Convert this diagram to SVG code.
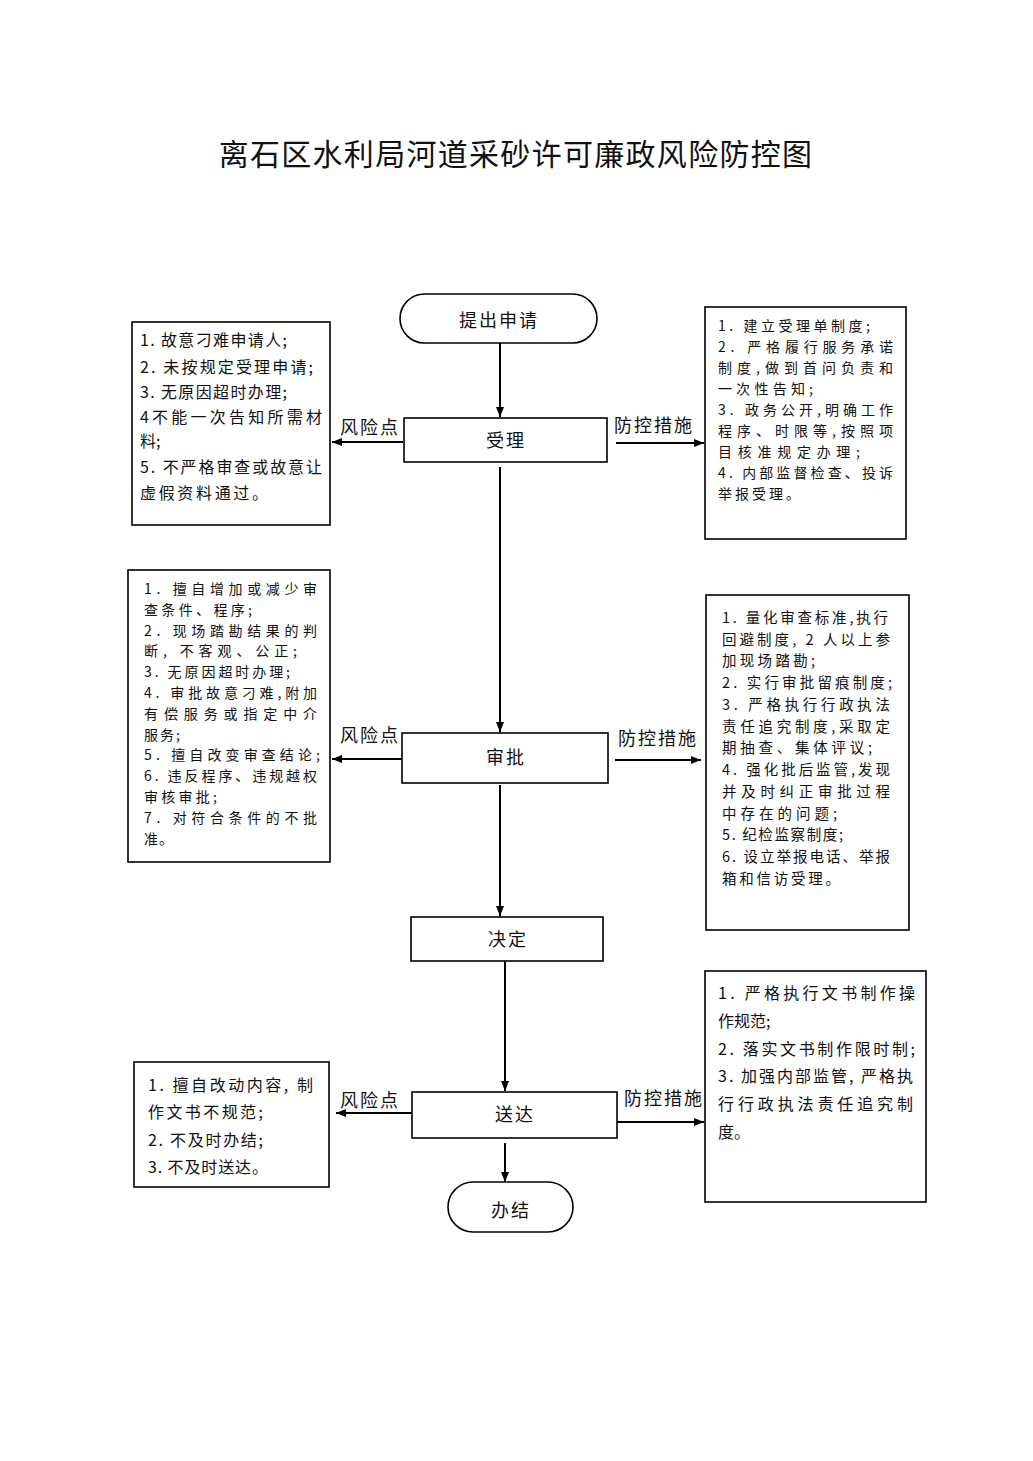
<svg xmlns="http://www.w3.org/2000/svg" width="1033" height="1461" viewBox="0 0 1033 1461">
<style>
.bg{fill:#fff}
.box{fill:#fff;stroke:#000;stroke-width:1.6}
.ln{stroke:#000;stroke-width:2;fill:none}
.t{font-family:"Noto Sans CJK SC","Liberation Sans",sans-serif;fill:#111}
.b16{font-size:16px}
.b14{font-size:14px}
.b145{font-size:14.5px}
.lbl{font-size:18px;letter-spacing:2px}
.node{font-size:18px;letter-spacing:2px;text-anchor:middle}
</style>
<defs>
<marker id="ah" viewBox="0 0 10 8" refX="10" refY="4" markerWidth="10" markerHeight="8" markerUnits="userSpaceOnUse" orient="auto">
<path d="M0,0 L10,4 L0,8 Z" fill="#000"/>
</marker>
</defs>
<rect class="bg" x="0" y="0" width="1033" height="1461"/>
<text class="t" x="516" y="165" font-size="30" letter-spacing="1.3" text-anchor="middle">离石区水利局河道采砂许可廉政风险防控图</text>

<g id="connectors">
<line class="ln" x1="500" y1="343" x2="500" y2="417" marker-end="url(#ah)"/>
<line class="ln" x1="500" y1="467" x2="500" y2="732" marker-end="url(#ah)"/>
<line class="ln" x1="500" y1="785" x2="500" y2="916" marker-end="url(#ah)"/>
<line class="ln" x1="505" y1="961" x2="505" y2="1091" marker-end="url(#ah)"/>
<line class="ln" x1="505" y1="1143" x2="505" y2="1182" marker-end="url(#ah)"/>
<line class="ln" x1="403" y1="442" x2="332" y2="442" marker-end="url(#ah)"/>
<line class="ln" x1="616" y1="443" x2="704" y2="443" marker-end="url(#ah)"/>
<line class="ln" x1="402" y1="759" x2="332" y2="759" marker-end="url(#ah)"/>
<line class="ln" x1="615" y1="760" x2="701" y2="760" marker-end="url(#ah)"/>
<line class="ln" x1="412" y1="1113" x2="336" y2="1113" marker-end="url(#ah)"/>
<line class="ln" x1="617" y1="1122" x2="704" y2="1122" marker-end="url(#ah)"/>
<text class="t lbl" x="340" y="434">风险点</text>
<text class="t lbl" x="614" y="432">防控措施</text>
<text class="t lbl" x="340" y="742">风险点</text>
<text class="t lbl" x="618" y="745">防控措施</text>
<text class="t lbl" x="340" y="1107">风险点</text>
<text class="t lbl" x="624" y="1105">防控措施</text>
</g>

<g id="start">
<rect class="box" x="400" y="294" width="197" height="49" rx="24.5"/>
<text class="t node" x="499" y="327">提出申请</text>
</g>
<g id="shouli">
<rect class="box" x="404" y="418" width="203" height="44"/>
<text class="t node" x="506" y="447">受理</text>
</g>
<g id="shenpi">
<rect class="box" x="402" y="733" width="206" height="50"/>
<text class="t node" x="506" y="764">审批</text>
</g>
<g id="jueding">
<rect class="box" x="411" y="917" width="192" height="44"/>
<text class="t node" x="508" y="946">决定</text>
</g>
<g id="songda">
<rect class="box" x="412" y="1092" width="205" height="46"/>
<text class="t node" x="515" y="1121">送达</text>
</g>
<g id="end">
<rect class="box" x="448" y="1182" width="125" height="50" rx="25"/>
<text class="t node" x="511" y="1217">办结</text>
</g>

<g id="risk1">
<rect class="box" x="132" y="322" width="198" height="203"/>
<g class="t b16">
<text x="140" y="346" textLength="147" lengthAdjust="spacing">1. 故意刁难申请人;</text>
<text x="140" y="373" textLength="173" lengthAdjust="spacing">2. 未按规定受理申请;</text>
<text x="140" y="398" textLength="147" lengthAdjust="spacing">3. 无原因超时办理;</text>
<text x="140" y="423" textLength="182" lengthAdjust="spacing">4不能一次告知所需材</text>
<text x="140" y="447">料;</text>
<text x="140" y="473" textLength="182" lengthAdjust="spacing">5. 不严格审查或故意让</text>
<text x="140" y="499" textLength="128" lengthAdjust="spacing">虚假资料通过。</text>
</g>
</g>

<g id="measure1">
<rect class="box" x="705" y="307" width="201" height="232"/>
<g class="t b14">
<text x="718" y="331" textLength="152" lengthAdjust="spacing">1. 建立受理单制度;</text>
<text x="718" y="352" textLength="175" lengthAdjust="spacing">2. 严格履行服务承诺</text>
<text x="718" y="373" textLength="175" lengthAdjust="spacing">制度,做到首问负责和</text>
<text x="718" y="394" textLength="95" lengthAdjust="spacing">一次性告知;</text>
<text x="718" y="415" textLength="175" lengthAdjust="spacing">3. 政务公开,明确工作</text>
<text x="718" y="436" textLength="175" lengthAdjust="spacing">程序、时限等,按照项</text>
<text x="718" y="457" textLength="142" lengthAdjust="spacing">目核准规定办理;</text>
<text x="718" y="478" textLength="175" lengthAdjust="spacing">4. 内部监督检查、投诉</text>
<text x="718" y="499" textLength="82" lengthAdjust="spacing">举报受理。</text>
</g>
</g>

<g id="risk2">
<rect class="box" x="128" y="570" width="202" height="292"/>
<g class="t b14">
<text x="144" y="594" textLength="173" lengthAdjust="spacing">1. 擅自增加或减少审</text>
<text x="144" y="615" textLength="108" lengthAdjust="spacing">查条件、程序;</text>
<text x="144" y="636" textLength="173" lengthAdjust="spacing">2. 现场踏勘结果的判</text>
<text x="144" y="656" textLength="153" lengthAdjust="spacing">断, 不客观、公正;</text>
<text x="144" y="677" textLength="146" lengthAdjust="spacing">3. 无原因超时办理;</text>
<text x="144" y="698" textLength="173" lengthAdjust="spacing">4. 审批故意刁难,附加</text>
<text x="144" y="719" textLength="173" lengthAdjust="spacing">有偿服务或指定中介</text>
<text x="144" y="740" letter-spacing="2">服务;</text>
<text x="144" y="760" textLength="176" lengthAdjust="spacing">5. 擅自改变审查结论;</text>
<text x="144" y="781" textLength="173" lengthAdjust="spacing">6. 违反程序、违规越权</text>
<text x="144" y="802" textLength="73" lengthAdjust="spacing">审核审批;</text>
<text x="144" y="823" textLength="173" lengthAdjust="spacing">7. 对符合条件的不批</text>
<text x="144" y="844" letter-spacing="1">准。</text>
</g>
</g>

<g id="measure2">
<rect class="box" x="706" y="595" width="203" height="335"/>
<g class="t b145">
<text x="722" y="623" textLength="166" lengthAdjust="spacing">1. 量化审查标准,执行</text>
<text x="722" y="645" textLength="168" lengthAdjust="spacing">回避制度, 2 人以上参</text>
<text x="722" y="666" textLength="93" lengthAdjust="spacing">加现场踏勘;</text>
<text x="722" y="688" textLength="170" lengthAdjust="spacing">2. 实行审批留痕制度;</text>
<text x="722" y="710" textLength="168" lengthAdjust="spacing">3. 严格执行行政执法</text>
<text x="722" y="732" textLength="168" lengthAdjust="spacing">责任追究制度,采取定</text>
<text x="722" y="753" textLength="150" lengthAdjust="spacing">期抽查、集体评议;</text>
<text x="722" y="775" textLength="168" lengthAdjust="spacing">4. 强化批后监管,发现</text>
<text x="722" y="797" textLength="168" lengthAdjust="spacing">并及时纠正审批过程</text>
<text x="722" y="819" textLength="115" lengthAdjust="spacing">中存在的问题;</text>
<text x="722" y="840" textLength="121" lengthAdjust="spacing">5. 纪检监察制度;</text>
<text x="722" y="862" textLength="168" lengthAdjust="spacing">6. 设立举报电话、举报</text>
<text x="722" y="884" textLength="118" lengthAdjust="spacing">箱和信访受理。</text>
</g>
</g>

<g id="risk3">
<rect class="box" x="134" y="1062" width="195" height="125"/>
<g class="t b16">
<text x="148" y="1091" textLength="165" lengthAdjust="spacing">1. 擅自改动内容, 制</text>
<text x="148" y="1118" textLength="115" lengthAdjust="spacing">作文书不规范;</text>
<text x="148" y="1146" textLength="115" lengthAdjust="spacing">2. 不及时办结;</text>
<text x="148" y="1173" textLength="120" lengthAdjust="spacing">3. 不及时送达。</text>
</g>
</g>

<g id="measure3">
<rect class="box" x="705" y="971" width="221" height="231"/>
<g class="t b16">
<text x="718" y="999" textLength="197" lengthAdjust="spacing">1. 严格执行文书制作操</text>
<text x="718" y="1027">作规范;</text>
<text x="718" y="1055" textLength="197" lengthAdjust="spacing">2. 落实文书制作限时制;</text>
<text x="718" y="1082" textLength="195" lengthAdjust="spacing">3. 加强内部监管, 严格执</text>
<text x="718" y="1110" textLength="195" lengthAdjust="spacing">行行政执法责任追究制</text>
<text x="718" y="1138">度。</text>
</g>
</g>
</svg>
